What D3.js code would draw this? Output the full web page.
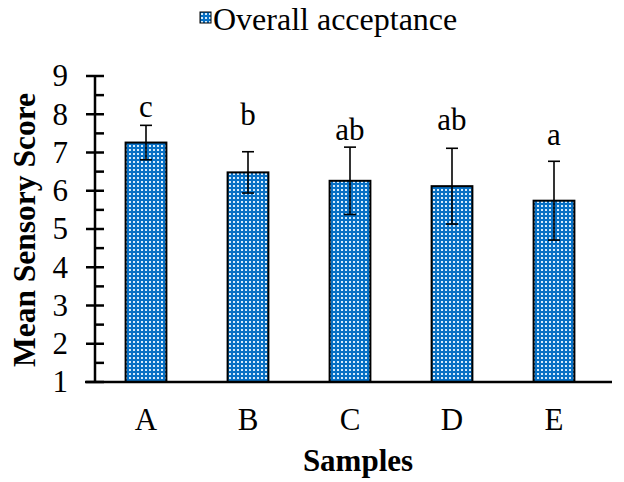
<!DOCTYPE html>
<html><head><meta charset="utf-8">
<script src="https://cdn.jsdelivr.net/npm/d3@7"></script>
<style>html,body{margin:0;padding:0;background:#fff;}svg{display:block;}</style>
</head><body>
<svg id="chart" width="624" height="482"></svg>
<script>
const categories = ["A","B","C","D","E"];
const means = [7.26, 6.48, 6.26, 6.12, 5.74];
const errors = [0.45, 0.54, 0.88, 0.99, 1.03];
const letters = ["c","b","ab","ab","a"];
const letterY = [7.93, 7.72, 7.33, 7.59, 7.20];
const yTicks = [1,2,3,4,5,6,7,8,9];
const yMinorTicks = [1.5,2.5,3.5,4.5,5.5,6.5,7.5,8.5];
const seriesName = "Overall acceptance";

(function(){
const svg = d3.select("#chart");
const font = "'Liberation Serif','Times New Roman',serif";
const mLeft = 95, mRight = 605, mTop = 76, mBottom = 382;

const defs = svg.append("defs");
const pat = defs.append("pattern").attr("id","dots").attr("patternUnits","userSpaceOnUse")
  .attr("width",4).attr("height",4);
pat.append("rect").attr("width",4).attr("height",4).attr("fill","#0870c4");
pat.append("rect").attr("x",1).attr("y",1).attr("width",2).attr("height",2).attr("fill","#d6ebfb");

const x = d3.scaleBand().domain(categories).range([mLeft, mRight]).paddingInner(0.6).paddingOuter(0.3);
const y = d3.scaleLinear().domain([1, 9]).range([mBottom, mTop]);

// bars
svg.append("g").selectAll("rect").data(categories).join("rect")
  .attr("x", d => x(d)).attr("width", x.bandwidth())
  .attr("y", (d,i) => y(means[i])).attr("height", (d,i) => y(1) - y(means[i]))
  .attr("fill","url(#dots)").attr("stroke","#000").attr("stroke-width",2);

// error bars
const eb = svg.append("g").attr("stroke","#000").attr("stroke-width",1.6);
categories.forEach((c,i) => {
  const cx = x(c) + x.bandwidth()/2;
  const y1 = y(means[i]+errors[i]), y2 = y(means[i]-errors[i]);
  eb.append("line").attr("x1",cx).attr("x2",cx).attr("y1",y1).attr("y2",y2);
  eb.append("line").attr("x1",cx-6).attr("x2",cx+6).attr("y1",y1).attr("y2",y1);
  eb.append("line").attr("x1",cx-6).attr("x2",cx+6).attr("y1",y2).attr("y2",y2);
});

// letters
svg.append("g").selectAll("text").data(categories).join("text")
  .attr("x", d => x(d) + x.bandwidth()/2).attr("y", (d,i) => y(letterY[i]))
  .attr("text-anchor","middle").attr("font-family",font).attr("font-size",31)
  .text((d,i) => letters[i]);

// y axis
const ya = svg.append("g").attr("transform",`translate(${mLeft},0)`);
ya.call(d3.axisLeft(y).tickValues(yTicks).tickSize(0).tickPadding(27).tickFormat(d3.format("d")));
ya.select(".domain").remove();
ya.selectAll("text").attr("font-family",font).attr("font-size",31).attr("fill","#000");
ya.append("line").attr("x1",0).attr("x2",0).attr("y1",y(9)).attr("y2",y(1)).attr("stroke","#000").attr("stroke-width",2.5);
ya.selectAll(".maj").data(yTicks).join("line").attr("class","maj")
  .attr("x1",-9).attr("x2",9).attr("y1",d=>y(d)).attr("y2",d=>y(d)).attr("stroke","#000").attr("stroke-width",2.5);
ya.selectAll(".min").data(yMinorTicks).join("line").attr("class","min")
  .attr("x1",0).attr("x2",9).attr("y1",d=>y(d)).attr("y2",d=>y(d)).attr("stroke","#000").attr("stroke-width",2.5);

// x axis
const xa = svg.append("g").attr("transform",`translate(0,${mBottom})`);
xa.call(d3.axisBottom(x).tickSize(0).tickPadding(26));
xa.select(".domain").remove();
xa.selectAll("text").attr("font-family",font).attr("font-size",31).attr("fill","#000");
xa.append("line").attr("x1",mLeft-10).attr("x2",mRight+7).attr("y1",0).attr("y2",0).attr("stroke","#000").attr("stroke-width",2.5);

// axis titles
svg.append("text").attr("x", (mLeft+mRight)/2+8).attr("y", 471).attr("text-anchor","middle")
  .attr("font-family",font).attr("font-size",31).attr("font-weight","bold").text("Samples");
svg.append("text").attr("transform",`translate(35,230) rotate(-90)`).attr("text-anchor","middle")
  .attr("font-family",font).attr("font-size",31.5).attr("font-weight","bold").text("Mean Sensory Score");

// legend
const lg = svg.append("g");
lg.append("rect").attr("x",200).attr("y",12).attr("width",11).attr("height",11)
  .attr("fill","url(#dots)").attr("stroke","#000").attr("stroke-width",1);
lg.append("text").attr("x",213).attr("y",30).attr("font-family",font).attr("font-size",32).text(seriesName);
})();
</script>
</body></html>
